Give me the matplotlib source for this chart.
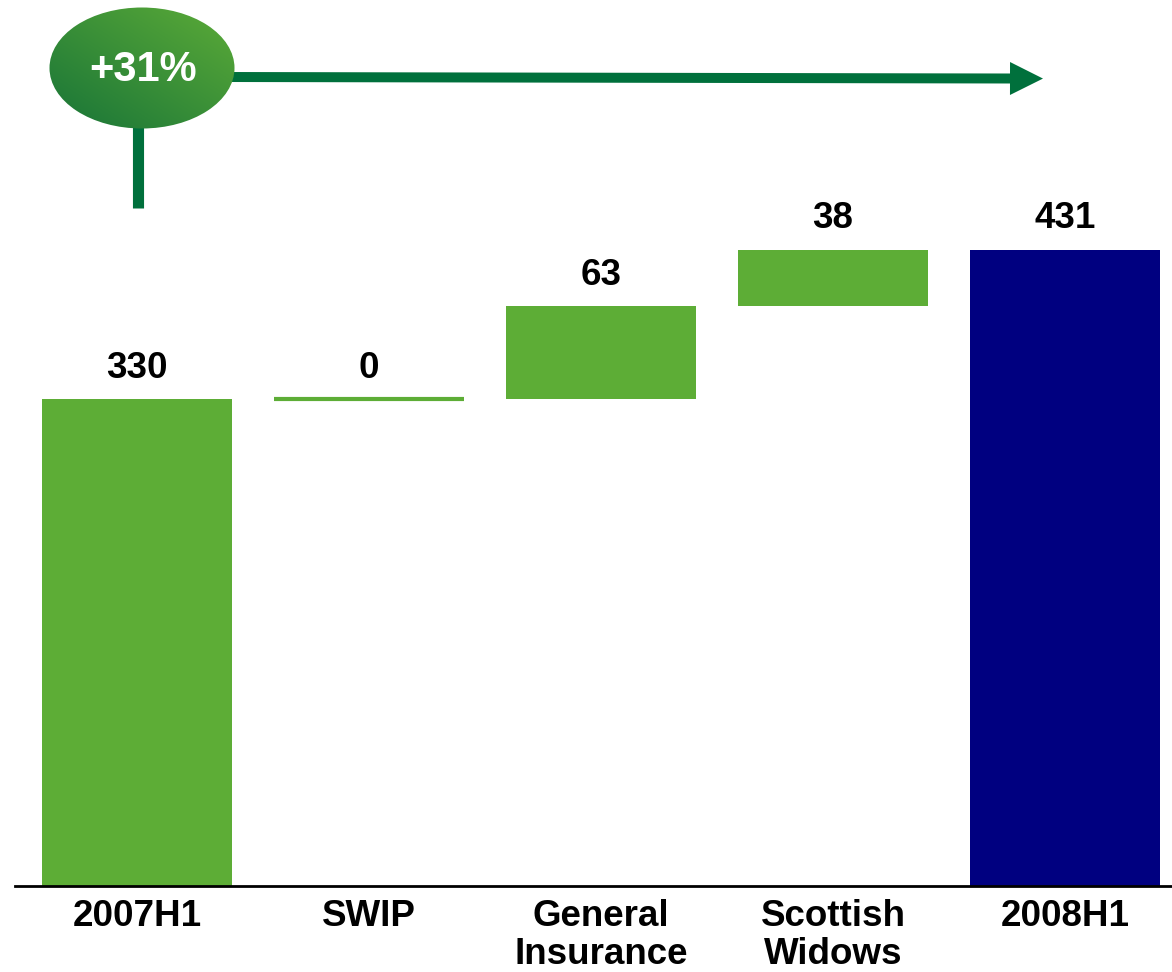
import numpy as np
import matplotlib
matplotlib.use("Agg")
from matplotlib import pyplot as plt
from matplotlib.patches import Ellipse, FancyArrow
from matplotlib.colors import LinearSegmentedColormap

categories = ["2007H1", "SWIP", "General\nInsurance", "Scottish\nWidows", "2008H1"]
start_value = 330
deltas = [0, 63, 38]
end_value = 431
growth_label = "+31%"

green = "#5DAD36"
navy = "#000080"
dark_green = "#00703C"

plt.rcParams["font.family"] = ["Liberation Sans", "DejaVu Sans"]

fig = plt.figure(figsize=(11.72, 9.72), dpi=100)
ax = fig.add_axes([0, 0, 1, 1])
ax.set_xlim(-0.5905, 4.461)
ax.set_ylim(-58.3, 600)
ax.axis("off")

x = np.arange(len(categories))
width = 0.819

# waterfall bottoms / heights
bottoms = [0] + list(start_value + np.cumsum([0] + deltas[:-1])) + [0]
heights = [start_value] + deltas + [end_value]
colors = [green] * (len(categories) - 1) + [navy]
values = [start_value] + deltas + [end_value]

for xi, b, h, c, v in zip(x, bottoms, heights, colors, values):
    if h == 0:
        ax.plot([xi - width / 2, xi + width / 2], [b, b], color=c, lw=3,
                solid_capstyle="butt", zorder=3)
    else:
        ax.bar(xi, h, bottom=b, width=width, color=c, zorder=2)
    ax.annotate(str(v), (xi, b + h), xytext=(0, 22), textcoords="offset points",
                ha="center", va="center", fontsize=26.5, fontweight="bold")

# baseline
ax.axhline(0, xmin=15 / 1172, xmax=1, color="black", lw=2, zorder=4)

for xi, lab in zip(x, categories):
    ax.text(xi, -9.0, lab, ha="center", va="top", fontsize=26.5,
            fontweight="bold", linespacing=1.12)

# growth bubble + arrow, drawn in pixel-like coordinates
ax2 = fig.add_axes([0, 0, 1, 1])
ax2.set_xlim(0, 1172)
ax2.set_ylim(972, 0)
ax2.axis("off")

ax2.plot([138, 138], [125, 208], color=dark_green, lw=8, solid_capstyle="butt")
ax2.add_patch(FancyArrow(225, 77, 785, 1.5, width=10, head_width=33,
                         head_length=33, length_includes_head=False,
                         color=dark_green, lw=0))

ell = Ellipse((142, 68), 185, 121, facecolor="none", edgecolor="none")
ax2.add_patch(ell)
gx, gy = np.meshgrid(np.linspace(0, 1, 200), np.linspace(0, 1, 200))
grad = (gx + (1 - gy)) / 2
cmap = LinearSegmentedColormap.from_list("g", ["#187437", "#5CAB38"])
im = ax2.imshow(grad, extent=(49, 235, 129, 7), cmap=cmap, aspect="auto",
                origin="upper", zorder=5)
im.set_clip_path(ell)
ax2.text(143, 70, growth_label, color="white", fontsize=30, fontweight="bold",
         ha="center", va="center", zorder=6)

fig.savefig("out.png", dpi=100)
